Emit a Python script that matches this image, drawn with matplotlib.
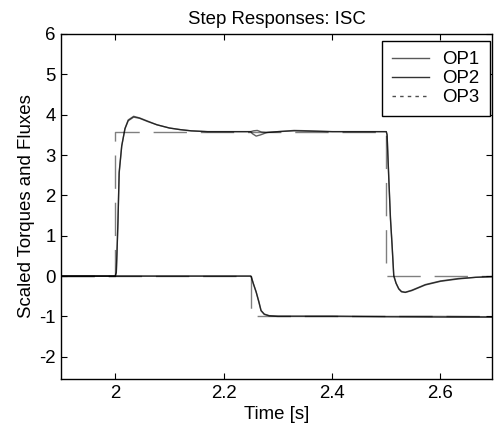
import matplotlib
matplotlib.use("Agg")
import matplotlib.pyplot as plt
from matplotlib.lines import Line2D

# ---------------- data ----------------
# Torque response, OP1
t_torque_op1 = [1.9, 2.0, 2.002, 2.003, 2.005, 2.0073, 2.012, 2.018, 2.024, 2.034,
                2.045, 2.06, 2.077, 2.1, 2.12, 2.14, 2.17, 2.2, 2.25, 2.253, 2.26,
                2.268, 2.28, 2.3, 2.33, 2.36, 2.4, 2.45, 2.5, 2.5015, 2.5046, 2.5077,
                2.5107, 2.5138, 2.518, 2.523, 2.528, 2.535, 2.547, 2.572, 2.6, 2.633,
                2.665, 2.7]
y_torque_op1 = [0.0, 0.0, 0.1, 0.5, 1.34, 2.58, 3.23, 3.65, 3.85, 3.94,
                3.91, 3.83, 3.75, 3.67, 3.63, 3.6, 3.58, 3.58, 3.58, 3.53, 3.47,
                3.5, 3.56, 3.58, 3.6, 3.59, 3.58, 3.58, 3.58, 3.5, 2.41, 1.41,
                0.75, 0.0, -0.18, -0.32, -0.39, -0.405, -0.36, -0.22, -0.13, -0.07,
                -0.03, -0.01]

# Torque response, OP2
t_torque_op2 = [1.9, 2.0, 2.002, 2.003, 2.005, 2.0073, 2.012, 2.018, 2.024, 2.034,
                2.045, 2.06, 2.077, 2.1, 2.12, 2.14, 2.17, 2.2, 2.25, 2.255, 2.262,
                2.27, 2.28, 2.3, 2.33, 2.36, 2.4, 2.45, 2.5, 2.5015, 2.5046, 2.5077,
                2.5107, 2.5138, 2.518, 2.523, 2.528, 2.535, 2.547, 2.572, 2.6, 2.633,
                2.665, 2.7]
y_torque_op2 = [0.0, 0.0, 0.08, 0.45, 1.3, 2.55, 3.22, 3.66, 3.87, 3.96,
                3.92, 3.84, 3.75, 3.67, 3.63, 3.6, 3.58, 3.58, 3.58, 3.6, 3.61,
                3.57, 3.56, 3.58, 3.61, 3.6, 3.58, 3.58, 3.58, 3.5, 2.45, 1.45,
                0.78, 0.02, -0.17, -0.31, -0.38, -0.4, -0.35, -0.21, -0.12, -0.06,
                -0.03, -0.01]

# Flux response, OP1 / OP2
t_flux = [1.9, 2.25, 2.251, 2.255, 2.26, 2.265, 2.269, 2.275, 2.284, 2.3, 2.4,
          2.5, 2.6, 2.7]
y_flux_op1 = [0.0, 0.0, -0.02, -0.2, -0.4, -0.65, -0.86, -0.95, -0.985, -1.0,
              -1.0, -1.01, -1.02, -1.02]
y_flux_op2 = [0.0, 0.0, -0.02, -0.19, -0.39, -0.63, -0.85, -0.94, -0.98, -0.99,
              -0.99, -1.0, -1.0, -1.01]

# OP3 (ideal steps)
t_torque_op3 = [1.9, 2.0, 2.0, 2.5, 2.5, 2.7]
y_torque_op3 = [0.0, 0.0, 3.58, 3.58, 0.0, 0.0]
t_flux_op3 = [1.9, 2.25, 2.25, 2.7]
y_flux_op3 = [0.0, 0.0, -1.0, -1.0]

labels = ["OP1", "OP2", "OP3"]
xticks = [2.0, 2.2, 2.4, 2.6]
xtick_labels = ["2", "2.2", "2.4", "2.6"]
yticks = [-2, -1, 0, 1, 2, 3, 4, 5, 6]

# ---------------- figure ----------------
plt.rcParams["font.family"] = ["Liberation Sans", "DejaVu Sans"]
plt.rcParams["axes.unicode_minus"] = False
FS = 13.4

fig = plt.figure(figsize=(4.94, 4.28), dpi=100)
W, H = 494, 428
L, R, T, B = 61, 492, 34, 379
ax = fig.add_axes([L / W, (H - B) / H, (R - L) / W, (B - T) / H])

solid_kw = dict(color="black", lw=1.0, alpha=0.62, solid_joinstyle="round")
ax.plot(t_torque_op1, y_torque_op1, **solid_kw)
ax.plot(t_flux, y_flux_op1, **solid_kw)
ax.plot(t_torque_op2, y_torque_op2, **solid_kw)
ax.plot(t_flux, y_flux_op2, **solid_kw)

dash_kw = dict(color="black", lw=1.0, alpha=0.5, dashes=(24, 10))
ax.plot(t_torque_op3, y_torque_op3, **dash_kw)
ax.plot(t_flux_op3, y_flux_op3, **dash_kw)

ax.set_xlim(1.9, 2.695)
ax.set_ylim(-2.55, 6)
ax.set_xticks(xticks)
ax.set_xticklabels(xtick_labels)
ax.set_yticks(yticks)
ax.tick_params(direction="in", top=True, right=True, length=4, width=0.8,
               labelsize=FS, pad=4)
for s in ax.spines.values():
    s.set_linewidth(1.0)

ax.set_title("Step Responses: ISC", fontsize=FS, pad=7)
ax.set_xlabel("Time [s]", fontsize=FS, labelpad=3)
ax.set_ylabel("Scaled Torques and Fluxes", fontsize=FS, labelpad=3)

handles = [
    Line2D([], [], color="0.35", lw=1.0),
    Line2D([], [], color="0.2", lw=1.0),
    Line2D([], [], color="0.3", lw=1.0, dashes=(2.5, 3)),
]
ax.legend(handles, labels, loc="upper right",
          bbox_to_anchor=((490 - L) / (R - L), (B - 41) / (B - T)),
          borderaxespad=0, fontsize=FS, fancybox=False, framealpha=1,
          edgecolor="black", handlelength=2.0, handletextpad=0.7,
          labelspacing=0.1, borderpad=0.55).get_frame().set_linewidth(1.0)

fig.savefig("out.png", dpi=100)
